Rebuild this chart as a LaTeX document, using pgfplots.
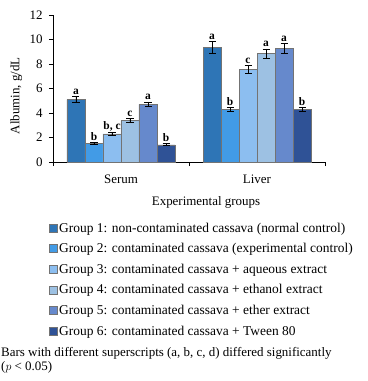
\documentclass[border=0pt]{standalone}
\usepackage{pgfplots}
\usepackage{pgfplotstable}
\pgfplotsset{compat=1.18}
\usepackage{fontspec}
\setmainfont{Liberation Serif}
\newcommand\f{\fontsize{13}{15.6}\selectfont}
\newcommand\fl{\fontsize{13.5}{16}\selectfont}
\newcommand\up[2]{\raisebox{#1}{#2}}
\definecolor{gA}{RGB}{46,117,182}
\definecolor{gB}{RGB}{66,155,230}
\definecolor{gC}{RGB}{140,190,240}
\definecolor{gD}{RGB}{157,193,227}
\definecolor{gE}{RGB}{102,137,204}
\definecolor{gF}{RGB}{47,82,150}
\definecolor{edge}{RGB}{115,115,115}

\pgfplotstableread{
x y err lab
0 5.10 0.25 {\up{3.1bp}{a}}
1 9.35 0.48 {\up{5.9bp}{a}}
}\tA
\pgfplotstableread{
x y err lab
0 1.50 0.08 {\up{1.0bp}{b}}
1 4.28 0.18 {\up{2.2bp}{b}}
}\tB
\pgfplotstableread{
x y err lab
0 2.30 0.12 {\up{1.5bp}{b, c}}
1 7.55 0.33 {\up{4.0bp}{c}}
}\tC
\pgfplotstableread{
x y err lab
0 3.38 0.15 {\up{1.8bp}{c}}
1 8.85 0.38 {\up{4.7bp}{a}}
}\tD
\pgfplotstableread{
x y err lab
0 4.70 0.20 {\up{2.5bp}{a}}
1 9.25 0.40 {\up{4.9bp}{a}}
}\tE
\pgfplotstableread{
x y err lab
0 1.40 0.08 {\up{1.0bp}{b}}
1 4.28 0.18 {\up{2.2bp}{b}}
}\tF

\pgfplotsset{
  lbl/.style={
    point meta=explicit symbolic,
    nodes near coords,
    every node near coord/.append style={font=\fontsize{11.5}{13}\selectfont\bfseries, black, inner sep=2bp},
  }
}

\begin{document}
\begin{tikzpicture}
\useasboundingbox (-53bp,-219bp) rectangle (315bp,162bp);
\begin{axis}[
  scale only axis,
  width=272bp, height=147bp,
  xmin=-0.5, xmax=1.5,
  ymin=0, ymax=12,
  ytick={0,2,...,12},
  axis x line*=bottom, axis y line*=left,
  axis line style={-, line width=0.6pt},
  tick align=outside,
  major tick length=4bp,
  tick style={black, line width=0.6pt},
  xtick={-0.5,0.5,1.5},
  xticklabels={Serum,Liver,{}},
  xticklabel style={xshift=68bp, yshift=-5bp},
  yticklabel style={xshift=-3bp},
  ybar=0pt, bar width=18bp,
  /pgf/number format/assume math mode=true,
  tick label style={font=\f},
  ylabel={Albumin, g/dL},
  ylabel style={font=\f, at={(axis description cs:-0.10,0.45)}},
  xlabel={Experimental groups},
  xlabel style={font=\f, at={(axis description cs:0.5625,0)}, yshift=-31bp},
  every axis plot/.append style={draw=edge, line width=0.5pt},
  error bars/y dir=both, error bars/y explicit,
  error bars/error bar style={black, line width=0.8pt},
  error bars/error mark options={rotate=90, mark size=3.5bp, black, line width=0.8pt},
  legend cell align=left,
  legend style={at={(0,0)}, anchor=north west, xshift=-4bp, yshift=-59bp, draw=none, fill=none, font=\fl, row sep=6.8bp, inner sep=0pt, nodes={inner sep=1.5bp}},
  legend image code/.code={\draw[#1, draw=edge, line width=0.5pt] (0bp,-4bp) rectangle (8bp,4bp);},
]
\addplot[fill=gA, lbl] table[x=x, y=y, y error=err, meta=lab] {\tA};
\addlegendentry{Group 1: non-contaminated cassava (normal control)}
\addplot[fill=gB, lbl] table[x=x, y=y, y error=err, meta=lab] {\tB};
\addlegendentry{Group 2: contaminated cassava (experimental control)}
\addplot[fill=gC, lbl] table[x=x, y=y, y error=err, meta=lab] {\tC};
\addlegendentry{Group 3: contaminated cassava + aqueous extract}
\addplot[fill=gD, lbl] table[x=x, y=y, y error=err, meta=lab] {\tD};
\addlegendentry{Group 4: contaminated cassava + ethanol extract}
\addplot[fill=gE, lbl] table[x=x, y=y, y error=err, meta=lab] {\tE};
\addlegendentry{Group 5: contaminated cassava + ether extract}
\addplot[fill=gF, lbl] table[x=x, y=y, y error=err, meta=lab] {\tF};
\addlegendentry{Group 6: contaminated cassava + Tween 80}
\end{axis}
\node[anchor=north west, align=left, font=\fontsize{13}{14}\selectfont, inner sep=0pt] at (-52bp,-185bp) {Bars with different superscripts (a, b, c, d) differed significantly\\($p$ < 0.05)};
\end{tikzpicture}
\end{document}
